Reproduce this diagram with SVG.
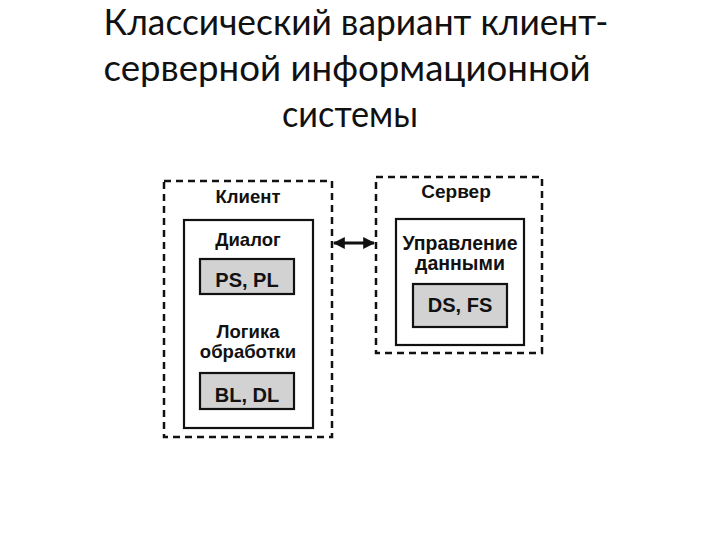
<svg xmlns="http://www.w3.org/2000/svg" width="720" height="540" viewBox="0 0 720 540">
<defs>
<style>
.title{font-family:Lato,"Open Sans","DejaVu Sans",sans-serif;font-size:36px;fill:#111;text-anchor:middle}
.dash{fill:none;stroke:#111;stroke-width:2.5;stroke-dasharray:7 5}
.solid{fill:#fff;stroke:#111;stroke-width:2.2}
.gray{fill:#d2d2d2;stroke:#111;stroke-width:2.2}
.lbl{font-family:"Liberation Sans",Arial,sans-serif;font-weight:bold;font-size:18.5px;fill:#111;text-anchor:middle}
.code{font-family:"Liberation Sans",Arial,sans-serif;font-weight:bold;font-size:20px;fill:#111;text-anchor:middle}
.conn{stroke:#111;stroke-width:3;fill:none}
</style>
<marker id="ah" viewBox="0 0 10 10" refX="9" refY="5" markerWidth="4" markerHeight="4" orient="auto-start-reverse" markerUnits="strokeWidth">
<path d="M0,0 L10,5 L0,10 z" fill="#111"/>
</marker>
</defs>
<rect width="720" height="540" fill="#fff"/>
<g id="title">
<text class="title" x="356" y="35" textLength="505" lengthAdjust="spacingAndGlyphs">Классический вариант клиент-</text>
<text class="title" x="347" y="81" textLength="487" lengthAdjust="spacingAndGlyphs">серверной информационной</text>
<text class="title" x="350" y="127" textLength="136" lengthAdjust="spacingAndGlyphs">системы</text>
</g>
<g id="client">
<rect class="dash" x="164" y="181" width="168" height="256"/>
<text class="lbl" x="248" y="203">Клиент</text>
<rect class="solid" x="184" y="220" width="129" height="208"/>
<text class="lbl" x="248" y="246">Диалог</text>
<g id="ps-pl">
<rect class="gray" x="200" y="259" width="94" height="35"/>
<text class="code" x="247" y="287">PS, PL</text>
</g>
<text class="lbl" x="248" y="338">Логика</text>
<text class="lbl" x="248" y="358">обработки</text>
<g id="bl-dl">
<rect class="gray" x="200" y="373" width="94" height="36"/>
<text class="code" x="247" y="402">BL, DL</text>
</g>
</g>
<g id="server">
<rect class="dash" x="376" y="177" width="166" height="176"/>
<text class="lbl" x="456" y="198" style="font-size:19px">Сервер</text>
<rect class="solid" x="396" y="219" width="128" height="126"/>
<text class="lbl" x="460" y="250" style="font-size:19.5px">Управление</text>
<text class="lbl" x="460" y="270" style="font-size:19.5px">данными</text>
<g id="ds-fs">
<rect class="gray" x="413" y="284" width="94" height="43"/>
<text class="code" x="460" y="312">DS, FS</text>
</g>
</g>
<g id="connectors">
<line class="conn" x1="334" y1="243" x2="374" y2="243" marker-start="url(#ah)" marker-end="url(#ah)"/>
</g>
</svg>
